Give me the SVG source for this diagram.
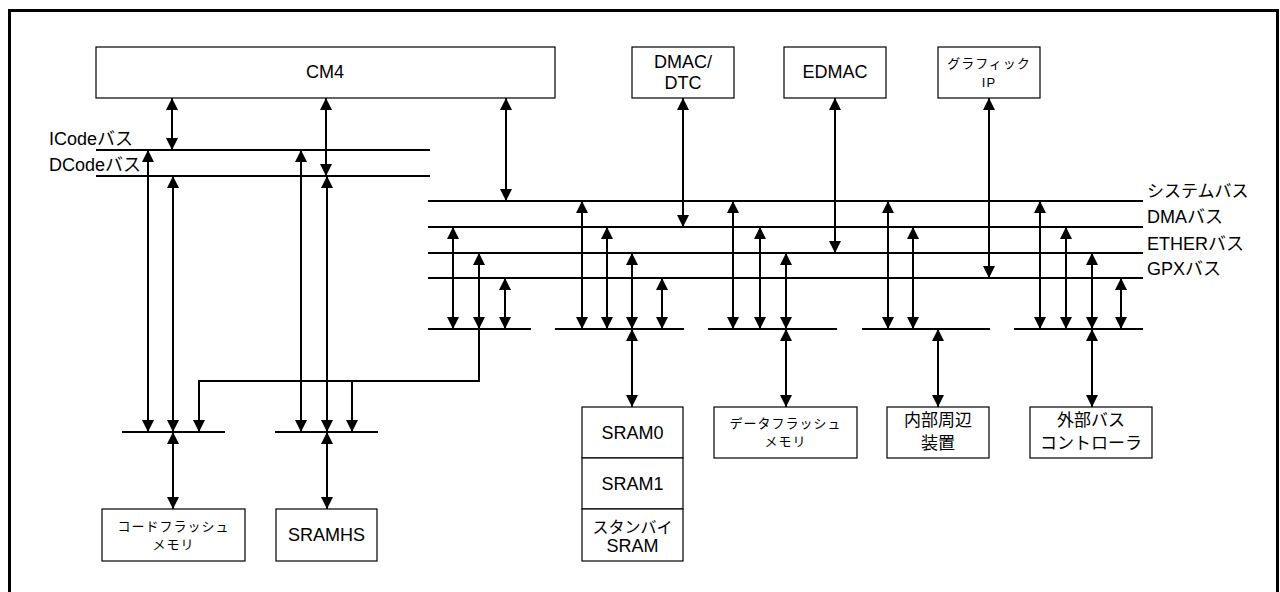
<svg xmlns="http://www.w3.org/2000/svg" width="1280" height="592" viewBox="0 0 1280 592">
<style>
text{font-family:"Liberation Sans","Noto Sans CJK JP",sans-serif;fill:#000;}
.t{font-size:18px;text-anchor:middle;}
.k{font-size:17px;text-anchor:middle;}
.s{font-size:13px;text-anchor:middle;letter-spacing:1px;}
.l{font-size:18px;}
.box{fill:#fff;stroke:#000;stroke-width:1.2;}
.bus{stroke:#000;stroke-width:2;fill:none;}
.c{stroke:#000;stroke-width:2;fill:none;}
.d{marker-start:url(#ah);marker-end:url(#ah);}
.e{marker-end:url(#ah);}
</style>
<defs>
<marker id="ah" markerUnits="userSpaceOnUse" markerWidth="13" markerHeight="12" refX="12" refY="6" orient="auto-start-reverse">
<path d="M0,0 L12,6 L0,12 z" fill="#000"/>
</marker>
</defs>
<rect x="9.5" y="10.5" width="1268" height="600" fill="#fff" stroke="#000" stroke-width="3"/>

<g id="buses">
<line class="bus" x1="96" y1="150" x2="430" y2="150"/>
<line class="bus" x1="96" y1="176" x2="430" y2="176"/>
<line class="bus" x1="428" y1="201" x2="1143" y2="201"/>
<line class="bus" x1="428" y1="227" x2="1143" y2="227"/>
<line class="bus" x1="428" y1="253" x2="1143" y2="253"/>
<line class="bus" x1="428" y1="278" x2="1143" y2="278"/>
<line class="bus" x1="428" y1="329" x2="531" y2="329"/>
<line class="bus" x1="555" y1="329" x2="684" y2="329"/>
<line class="bus" x1="708" y1="329" x2="837" y2="329"/>
<line class="bus" x1="862" y1="329" x2="990" y2="329"/>
<line class="bus" x1="1014" y1="329" x2="1143" y2="329"/>
<line class="bus" x1="122" y1="432" x2="225" y2="432"/>
<line class="bus" x1="275" y1="432" x2="378" y2="432"/>
</g>

<g id="bus-labels">
<text class="l" x="49" y="145">ICodeバス</text>
<text class="l" x="49" y="171">DCodeバス</text>
<text class="l" x="1147" y="197" style="font-size:17px">システムバス</text>
<text class="l" x="1147" y="223">DMAバス</text>
<text class="l" x="1147" y="250">ETHERバス</text>
<text class="l" x="1147" y="275">GPXバス</text>
</g>

<g id="connectors">
<line class="c d" x1="172" y1="98" x2="172" y2="150"/>
<line class="c d" x1="326" y1="98" x2="326" y2="176"/>
<line class="c d" x1="506" y1="98" x2="506" y2="201"/>
<line class="c d" x1="683" y1="98" x2="683" y2="227"/>
<line class="c d" x1="835" y1="98" x2="835" y2="253"/>
<line class="c d" x1="989" y1="98" x2="989" y2="278"/>

<line class="c d" x1="148" y1="150" x2="148" y2="432"/>
<line class="c d" x1="173" y1="176" x2="173" y2="432"/>
<line class="c d" x1="301" y1="150" x2="301" y2="432"/>
<line class="c d" x1="327" y1="176" x2="327" y2="432"/>
<polyline class="c" points="479,329 479,381 199,381"/>
<line class="c e" x1="199" y1="380" x2="199" y2="432"/>
<line class="c e" x1="352" y1="381" x2="352" y2="432"/>
<line class="c d" x1="173" y1="432" x2="173" y2="509"/>
<line class="c d" x1="327" y1="432" x2="327" y2="509"/>

<line class="c d" x1="453" y1="227" x2="453" y2="329"/>
<line class="c d" x1="479" y1="253" x2="479" y2="329"/>
<line class="c d" x1="505" y1="278" x2="505" y2="329"/>

<line class="c d" x1="582" y1="201" x2="582" y2="329"/>
<line class="c d" x1="607" y1="227" x2="607" y2="329"/>
<line class="c d" x1="632" y1="253" x2="632" y2="329"/>
<line class="c d" x1="662" y1="278" x2="662" y2="329"/>
<line class="c d" x1="632" y1="329" x2="632" y2="407"/>

<line class="c d" x1="733" y1="201" x2="733" y2="329"/>
<line class="c d" x1="760" y1="227" x2="760" y2="329"/>
<line class="c d" x1="786" y1="253" x2="786" y2="329"/>
<line class="c d" x1="786" y1="329" x2="786" y2="407"/>

<line class="c d" x1="888" y1="201" x2="888" y2="329"/>
<line class="c d" x1="913" y1="227" x2="913" y2="329"/>
<line class="c d" x1="938" y1="329" x2="938" y2="407"/>

<line class="c d" x1="1040" y1="201" x2="1040" y2="329"/>
<line class="c d" x1="1066" y1="227" x2="1066" y2="329"/>
<line class="c d" x1="1092" y1="253" x2="1092" y2="329"/>
<line class="c d" x1="1121" y1="278" x2="1121" y2="329"/>
<line class="c d" x1="1092" y1="329" x2="1092" y2="407"/>
</g>

<g id="cm4">
<rect class="box" x="96" y="47" width="459" height="51"/>
<text class="t" x="325" y="78">CM4</text>
</g>
<g id="dmac">
<rect class="box" x="632" y="47" width="102" height="51"/>
<text class="t" x="683" y="68">DMAC/</text>
<text class="t" x="683" y="89">DTC</text>
</g>
<g id="edmac">
<rect class="box" x="784" y="47" width="102" height="51"/>
<text class="t" x="835" y="78">EDMAC</text>
</g>
<g id="graphic-ip">
<rect class="box" x="938" y="47" width="102" height="51"/>
<text class="s" x="989" y="68">グラフィック</text>
<text class="s" x="989" y="87">IP</text>
</g>
<g id="code-flash">
<rect class="box" x="102" y="509" width="143" height="52"/>
<text class="s" x="173.5" y="530.5">コードフラッシュ</text>
<text class="s" x="173.5" y="549">メモリ</text>
</g>
<g id="sramhs">
<rect class="box" x="276" y="509" width="101" height="52"/>
<text class="t" x="326.5" y="541">SRAMHS</text>
</g>
<g id="sram">
<rect class="box" x="582" y="407" width="101" height="51"/>
<text class="t" x="632.5" y="439">SRAM0</text>
<rect class="box" x="582" y="458" width="101" height="51"/>
<text class="t" x="632.5" y="490">SRAM1</text>
<rect class="box" x="582" y="509" width="101" height="52"/>
<text class="k" x="632.5" y="533" style="font-size:16px">スタンバイ</text>
<text class="t" x="632.5" y="552">SRAM</text>
</g>
<g id="data-flash">
<rect class="box" x="714" y="407" width="143" height="51"/>
<text class="s" x="785.5" y="427.5">データフラッシュ</text>
<text class="s" x="785.5" y="446">メモリ</text>
</g>
<g id="peripheral">
<rect class="box" x="887" y="407" width="102" height="51"/>
<text class="k" x="938" y="426">内部周辺</text>
<text class="k" x="938" y="449">装置</text>
</g>
<g id="ext-bus">
<rect class="box" x="1030" y="407" width="122" height="51"/>
<text class="k" x="1091" y="426">外部バス</text>
<text class="k" x="1091" y="449">コントローラ</text>
</g>
</svg>
